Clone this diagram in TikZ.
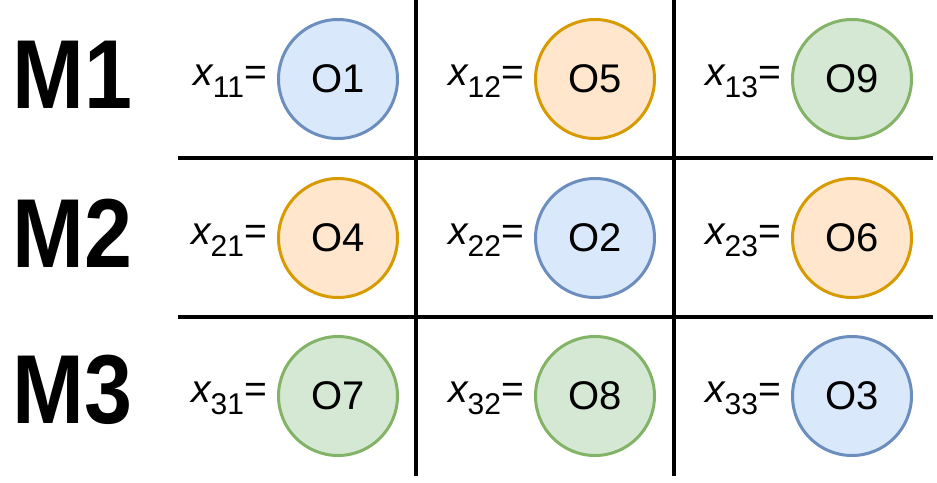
\documentclass[tikz,border=0pt]{standalone}
\usepackage{fontspec}
\setmainfont{Liberation Sans}
\newfontfamily\mfont[FakeStretch=0.88]{Liberation Sans Bold}
\definecolor{bfill}{HTML}{DAE8FC}\definecolor{bdraw}{HTML}{6C8EBF}
\definecolor{ofill}{HTML}{FFE6CC}\definecolor{odraw}{HTML}{D79B00}
\definecolor{gfill}{HTML}{D5E8D4}\definecolor{gdraw}{HTML}{82B366}
\tikzset{
  opnode/.style={circle,minimum size=119pt,inner sep=0pt,line width=3pt,font=\fontsize{40}{40}\selectfont},
  blue/.style={opnode,fill=bfill,draw=bdraw},
  orange/.style={opnode,fill=ofill,draw=odraw},
  green/.style={opnode,fill=gfill,draw=gdraw},
  mlabel/.style={anchor=base west,inner sep=0pt,font=\fontsize{98}{98}\mfont},
  xlabel/.style={anchor=base east,inner sep=0pt,font=\fontsize{39}{39}\selectfont},
  gridline/.style={line width=3.8pt,black}
}
\newcommand{\xl}[1]{\textit{x}\kern-1pt\raisebox{-12pt}{\fontsize{30}{30}\selectfont #1}=}
\begin{document}
\begin{tikzpicture}[x=1pt,y=-1pt]
\useasboundingbox (0,0) rectangle (937,482);
\coordinate (v1t) at (416,0); \coordinate (v1b) at (416,476);
\coordinate (v2t) at (674,0); \coordinate (v2b) at (674,476);
\coordinate (h1l) at (178,158); \coordinate (h1r) at (933,158);
\coordinate (h2l) at (178,317); \coordinate (h2r) at (933,317);
\draw[gridline] (v1t) -- (v1b);
\draw[gridline] (v2t) -- (v2b);
\draw[gridline] (h1l) -- (h1r);
\draw[gridline] (h2l) -- (h2r);
\node[mlabel] (m1) at (12,108) {M1};
\node[mlabel] (m2) at (12,267) {M2};
\node[mlabel] (m3) at (12,423) {M3};
% row 1
\node[blue]   (o1) at (338,79) {O1};
\node[orange] (o5) at (595,79) {O5};
\node[green]  (o9) at (852,79) {O9};
% row 2
\node[orange] (o4) at (338,238) {O4};
\node[blue]   (o2) at (595,238) {O2};
\node[orange] (o6) at (852,238) {O6};
% row 3
\node[green]  (o7) at (338,396) {O7};
\node[green]  (o8) at (595,396) {O8};
\node[blue]   (o3) at (852,396) {O3};
\node[xlabel] (l11) at (267,85) {\xl{11}};
\node[xlabel] (l12) at (524,85) {\xl{12}};
\node[xlabel] (l13) at (781,85) {\xl{13}};
\node[xlabel] (l21) at (267,244) {\xl{21}};
\node[xlabel] (l22) at (524,244) {\xl{22}};
\node[xlabel] (l23) at (781,244) {\xl{23}};
\node[xlabel] (l31) at (267,402) {\xl{31}};
\node[xlabel] (l32) at (524,402) {\xl{32}};
\node[xlabel] (l33) at (781,402) {\xl{33}};
\end{tikzpicture}
\end{document}
